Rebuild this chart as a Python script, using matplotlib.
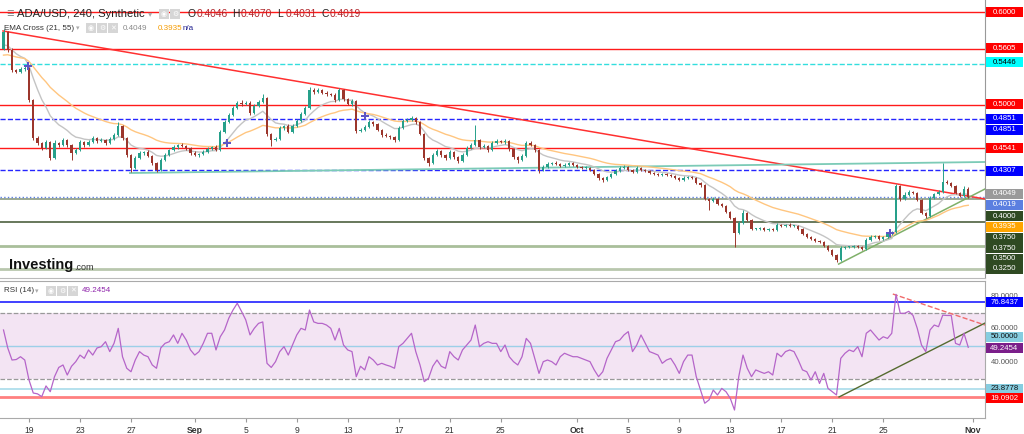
import matplotlib.pyplot as plt
import matplotlib.dates as mdates
from matplotlib.patches import Rectangle
import numpy as np
import pandas as pd

plt.rcParams['font.family'] = ['Liberation Sans', 'DejaVu Sans']

# ---- data (8h bars) ----
first_open = 0.5600
close = [
    0.5786, 0.5593, 0.5379, 0.5358, 0.5390, 0.5401, 0.5058, 0.4652, 0.4598, 0.4545,
    0.4609, 0.4438, 0.4598, 0.4577, 0.4630, 0.4577, 0.4491, 0.4523, 0.4609, 0.4577,
    0.4609, 0.4652, 0.4620, 0.4630, 0.4598, 0.4641, 0.4684, 0.4780, 0.4652, 0.4470,
    0.4331, 0.4438, 0.4491, 0.4502, 0.4459, 0.4384, 0.4309, 0.4416, 0.4470, 0.4523,
    0.4555, 0.4577, 0.4566, 0.4545, 0.4491, 0.4470, 0.4481, 0.4502, 0.4534, 0.4555,
    0.4523, 0.4716, 0.4823, 0.4898, 0.4973, 0.5026, 0.5016, 0.5026, 0.4919, 0.4994,
    0.5037, 0.5080, 0.4695, 0.4630, 0.4641, 0.4759, 0.4780, 0.4716, 0.4780, 0.4834,
    0.4909, 0.4973, 0.5165, 0.5144, 0.5165, 0.5133, 0.5123, 0.5112, 0.5058, 0.5165,
    0.5069, 0.5016, 0.5048, 0.4727, 0.4737, 0.4769, 0.4823, 0.4802, 0.4737, 0.4684,
    0.4673, 0.4662, 0.4630, 0.4759, 0.4834, 0.4844, 0.4866, 0.4823, 0.4695, 0.4438,
    0.4384, 0.4470, 0.4513, 0.4470, 0.4438, 0.4502, 0.4448, 0.4406, 0.4470, 0.4545,
    0.4577, 0.4630, 0.4555, 0.4566, 0.4523, 0.4598, 0.4620, 0.4609, 0.4620, 0.4534,
    0.4448, 0.4416, 0.4459, 0.4598, 0.4577, 0.4523, 0.4309, 0.4341, 0.4373, 0.4384,
    0.4373, 0.4352, 0.4363, 0.4384, 0.4363, 0.4341, 0.4331, 0.4331, 0.4309, 0.4267,
    0.4224, 0.4202, 0.4234, 0.4267, 0.4299, 0.4331, 0.4341, 0.4309, 0.4288, 0.4331,
    0.4309, 0.4299, 0.4277, 0.4267, 0.4256, 0.4267, 0.4256, 0.4245, 0.4224, 0.4202,
    0.4224, 0.4234, 0.4224, 0.4170, 0.4149, 0.3999, 0.3978, 0.3999, 0.3945, 0.3924,
    0.3860, 0.3796, 0.3635, 0.3742, 0.3849, 0.3774, 0.3678, 0.3678, 0.3689, 0.3667,
    0.3678, 0.3667, 0.3721, 0.3710, 0.3721, 0.3710, 0.3710, 0.3678, 0.3624, 0.3592,
    0.3571, 0.3550, 0.3539, 0.3496, 0.3453, 0.3400, 0.3346, 0.3475, 0.3485, 0.3485,
    0.3496, 0.3485, 0.3464, 0.3560, 0.3592, 0.3603, 0.3571, 0.3592, 0.3624, 0.3646,
    0.4138, 0.3999, 0.4041, 0.4074, 0.4063, 0.3988, 0.3849, 0.3817, 0.4010, 0.4052,
    0.4074, 0.4181, 0.4170, 0.4138, 0.4063, 0.4031, 0.4106, 0.4019,
]
# wick lengths above / below the body, in 0.001
up_wick = [
    3, 1, 2, 1, 2, 2, 1, 1, 2, 1, 2, 1, 3, 1, 2, 1, 1, 2, 2, 1,
    2, 2, 1, 2, 1, 2, 2, 4, 1, 1, 1, 2, 2, 1, 2, 1, 1, 2, 2, 1,
    2, 1, 2, 1, 1, 2, 1, 2, 2, 1, 2, 2, 2, 2, 2, 2, 3, 2, 2, 2,
    2, 4, 1, 1, 2, 2, 1, 2, 2, 2, 2, 2, 3, 2, 2, 1, 2, 1, 2, 2,
    1, 1, 2, 1, 2, 2, 2, 1, 1, 1, 2, 1, 1, 2, 2, 2, 2, 1, 1, 1,
    1, 2, 2, 1, 1, 2, 1, 1, 2, 2, 2, 16, 1, 2, 1, 2, 2, 1, 2, 1,
    1, 1, 2, 2, 2, 1, 1, 2, 2, 1, 2, 1, 2, 1, 1, 1, 1, 2, 1, 1,
    1, 1, 1, 1, 2, 2, 2, 1, 1, 2, 1, 1, 1, 1, 1, 1, 1, 1, 1, 1,
    2, 1, 1, 1, 1, 1, 1, 2, 1, 1, 1, 1, 1, 2, 3, 1, 1, 1, 1, 1,
    1, 1, 2, 1, 1, 2, 1, 1, 1, 1, 1, 1, 1, 1, 1, 1, 1, 2, 1, 1,
    1, 1, 1, 2, 2, 1, 1, 1, 1, 1, 2, 1, 3, 2, 1, 1, 1, 1, 2, 1,
    2, 20, 2, 1, 1, 1, 3, 2,
]
down_wick = [
    1, 2, 2, 1, 1, 2, 2, 2, 2, 2, 1, 2, 1, 2, 1, 2, 7, 1, 1, 2,
    1, 1, 2, 1, 2, 1, 1, 1, 2, 2, 4, 1, 1, 2, 1, 2, 2, 1, 1, 1,
    1, 2, 1, 2, 2, 1, 2, 1, 1, 1, 1, 1, 1, 1, 1, 1, 2, 1, 2, 1,
    1, 1, 2, 6, 1, 1, 2, 1, 1, 1, 1, 1, 1, 2, 1, 1, 2, 1, 2, 1,
    2, 1, 2, 2, 1, 1, 1, 2, 1, 2, 1, 2, 2, 1, 1, 1, 1, 2, 1, 2,
    3, 1, 1, 2, 2, 1, 2, 2, 1, 1, 1, 1, 2, 1, 2, 1, 1, 1, 2, 2,
    2, 3, 1, 1, 1, 2, 3, 1, 1, 1, 1, 1, 1, 1, 1, 1, 1, 1, 1, 1,
    2, 2, 1, 1, 1, 1, 1, 1, 1, 1, 1, 1, 1, 1, 1, 1, 1, 1, 1, 1,
    1, 1, 1, 1, 2, 1, 10, 1, 1, 1, 1, 1, 15, 1, 1, 1, 1, 1, 1, 1,
    1, 1, 1, 1, 1, 1, 1, 1, 1, 1, 1, 1, 1, 1, 1, 1, 2, 1, 1, 1,
    1, 1, 1, 1, 1, 1, 1, 1, 1, 1, 1, 2, 1, 1, 1, 1, 1, 2, 1, 1,
    1, 1, 1, 1, 1, 1, 1, 1,
]
rsi = [
    59.7, 48.8, 41.5, 41.8, 43.5, 41.5, 29.4, 21.5, 21.0, 19.3, 25.8, 22.3, 31.4, 37.0, 38.5, 32.4, 37.7, 40.5, 44.5, 42.5,
    47.6, 44.5, 48.8, 49.6, 52.6, 46.6, 51.6, 60.7, 43.5, 36.5, 34.4, 41.5, 46.6, 44.5, 43.5, 38.5, 36.5, 48.8, 51.6, 52.6,
    56.7, 51.6, 57.7, 53.6, 47.6, 44.5, 46.6, 51.6, 57.7, 57.7, 47.6, 55.6, 59.7, 66.8, 71.8, 75.9, 71.0, 65.8, 56.7, 60.7,
    63.7, 64.6, 39.5, 37.0, 40.5, 46.6, 49.6, 44.5, 50.6, 56.7, 60.7, 59.7, 71.8, 64.6, 63.7, 63.7, 62.7, 60.7, 53.6, 60.7,
    50.6, 47.6, 46.6, 31.4, 37.7, 35.5, 43.5, 41.5, 38.5, 39.5, 38.5, 37.7, 36.5, 49.6, 51.6, 54.6, 57.7, 46.6, 38.5, 28.4,
    30.4, 37.7, 41.5, 37.7, 36.5, 46.6, 43.5, 41.5, 47.6, 50.6, 53.6, 62.7, 49.6, 51.6, 52.6, 51.6, 51.6, 46.6, 50.6, 43.5,
    40.5, 38.5, 43.5, 54.6, 51.6, 42.5, 33.4, 40.5, 41.5, 40.5, 38.5, 43.5, 45.6, 44.5, 43.5, 43.5, 42.5, 41.5, 40.5, 35.5,
    31.4, 34.4, 42.5, 47.6, 52.6, 53.6, 56.7, 58.7, 46.6, 50.6, 56.7, 51.6, 46.6, 45.6, 44.5, 39.5, 41.5, 42.5, 38.5, 33.4,
    40.5, 44.5, 44.5, 31.4, 23.3, 15.3, 17.3, 23.3, 20.3, 24.3, 22.3, 18.3, 11.2, 31.4, 44.5, 36.5, 31.4, 35.5, 34.4, 33.4,
    34.4, 32.4, 45.6, 43.5, 46.6, 47.6, 46.6, 41.5, 35.5, 34.4, 29.4, 34.4, 27.3, 33.4, 24.3, 22.3, 20.3, 42.5, 45.6, 47.6,
    46.6, 49.6, 43.5, 57.7, 59.7, 56.7, 53.6, 55.6, 54.6, 57.7, 81.3, 69.8, 69.8, 71.0, 68.5, 60.7, 50.6, 46.6, 59.7, 62.7,
    61.7, 68.7, 68.5, 68.5, 51.6, 50.6, 57.7, 49.2,
]
ema_periods = (21, 55)
ema_seed = (0.5620, 0.5520)

cross_times = ["2022-08-18 22:00", "2022-09-03 13:00", "2022-09-14 08:00", "2022-10-25 13:00"]
cross_prices = [0.5422, 0.4598, 0.4887, 0.3635]

level_values = [0.6000, 0.5605, 0.5446, 0.5000, 0.4851, 0.4541, 0.4307, 0.4000, 0.3750, 0.3500, 0.3250]
level_colors = ['#ff1a1a', '#ff1a1a', '#33dede', '#ff1a1a', '#2525ff', '#ff1a1a', '#2525ff',
                '#8c9c80', '#4e6140', '#a9bf9a', '#b9c7ae']
level_styles = ['-', '-', '--', '-', '--', '-', '--', '-', '-', '-', '-']
level_widths = [1, 1, 1, 1, 1, 1, 1, 1.2, 1.2, 2, 2]

# trend lines: (start time, start value, end time, end value)
red_trend = ("2022-08-16 23:00", 0.5797, "2022-11-01 23:30", 0.3999)
teal_trend = ("2022-08-26 22:00", 0.4277, "2022-11-01 23:30", 0.4395)
green_trend = ("2022-10-21 12:00", 0.3303, "2022-11-01 23:30", 0.4106)
rsi_red_trend = ("2022-10-25 18:00", 81.5, "2022-11-01 23:30", 62.7)
rsi_green_trend = ("2022-10-21 12:45", 19.1, "2022-11-01 23:30", 63.9)

price_tags = ["0.6000", "0.5605", "0.5446", "0.5000", "0.4851", "0.4851", "0.4541", "0.4307",
              "0.4049", "0.4019", "0.4000", "0.3935", "0.3750", "0.3750", "0.3500", "0.3250"]
price_tag_colors = ['#ff0000', '#ff0000', '#00ffff', '#ff0000', '#0000ff', '#0000ff', '#ff0000', '#0000ff',
                    '#9a9a9a', '#5b7fe0', '#2f4a22', '#ffa500', '#2f4a22', '#2f4a22', '#2f4a22', '#2f4a22']
rsi_tags = ["76.8437", "50.0000", "49.2454", "23.8778", "19.0902"]
rsi_tag_colors = ['#0000ff', '#86cde0', '#7b1f8a', '#86cde0', '#ff0000']
rsi_axis_values = ["80.0000", "60.0000", "40.0000"]

tick_dates = ["2022-08-19", "2022-08-23", "2022-08-27", "2022-09-01", "2022-09-05", "2022-09-09",
              "2022-09-13", "2022-09-17", "2022-09-21", "2022-09-25", "2022-10-01", "2022-10-05",
              "2022-10-09", "2022-10-13", "2022-10-17", "2022-10-21", "2022-10-25", "2022-11-01"]
tick_labels = ["19", "23", "27", "Sep", "5", "9", "13", "17", "21", "25", "Oct", "5", "9", "13",
               "17", "21", "25", "Nov"]

# ---- layout helpers (pixel positions on a 1024x434 canvas) ----
W, H = 1024, 434


def px(x, y):
    return x / W, 1 - y / H


def ema(values, period, seed):
    # period is in 4h bars, data is 8h bars
    alpha = 1 - (1 - 2 / (period + 1)) ** 2
    out, e = [], seed
    for v in values:
        e = e + alpha * (v - e)
        out.append(e)
    return np.array(out)


def tag(ypix, text, bg, fg='white'):
    fig.patches.append(Rectangle((986 / W, 1 - (ypix + 5) / H), 37 / W, 10 / H,
                                 transform=fig.transFigure, fc=bg, ec='none', zorder=5))
    fig.text(1004.5 / W, 1 - ypix / H, text, ha='center', va='center', fontsize=5.6,
             color=fg, zorder=6)


def seg(a, line, **kw):
    t0, v0, t1, v1 = line
    a.plot(mdates.date2num(pd.to_datetime([t0, t1])), [v0, v1], **kw)


fig = plt.figure(figsize=(10.24, 4.34), dpi=100)
ax = fig.add_axes([0, 1 - 278 / H, 985 / W, 278 / H])
ax2 = fig.add_axes([0, 1 - 418 / H, 985 / W, 137 / H], sharex=ax)

times = pd.date_range("2022-08-17", periods=len(close), freq="8h")
x = mdates.date2num(times)
c = np.array(close)
o = np.array([first_open] + close[:-1])
hi = np.maximum(o, c) + np.array(up_wick) * 0.001
lo = np.minimum(o, c) - np.array(down_wick) * 0.001
colors = np.where(c >= o, '#26a08a', '#9c362c')

# levels and trend lines
for v, col, ls, lw in zip(level_values, level_colors, level_styles, level_widths):
    ax.axhline(v, color=col, ls=ls, lw=lw, zorder=1)
ax.axhline(close[-1], color='#5b7fe0', ls=':', lw=1, zorder=1)
seg(ax, red_trend, color='#ff3030', lw=1.1, zorder=2)
seg(ax, teal_trend, color='#7ccbb7', lw=1.3, zorder=2)
seg(ax, green_trend, color='#7fb069', lw=1.1, zorder=2)

# EMA cross
ax.plot(x, ema(close, ema_periods[0], ema_seed[0]), color='#c4c4c4', lw=1, zorder=3)
ax.plot(x, ema(close, ema_periods[1], ema_seed[1]), color='#ffc680', lw=1, zorder=3)

# candles
ax.vlines(x, lo, hi, colors=colors, lw=0.7, zorder=4)
ax.bar(x, np.maximum(np.abs(c - o), 0.0006), bottom=np.minimum(o, c), width=0.19,
       color=colors, lw=0, zorder=4)
ax.plot(mdates.date2num(pd.to_datetime(cross_times)), cross_prices, 'P', color='#5d55c4',
        ms=6, mew=0, zorder=6)

base = mdates.date2num(pd.Timestamp("2022-08-19"))
ax.set_xlim(base - 2.275, base + 74.98)
ax.set_ylim(0.31536, 0.61284)
ax.set_yticks([])
ax.tick_params(axis='x', which='both', bottom=False, labelbottom=False)
for s in ['top', 'left']:
    ax.spines[s].set_visible(False)
ax.spines['right'].set_color('#999999')
ax.spines['bottom'].set_color('#bbbbbb')

# RSI panel
ax2.axhspan(30, 70, color='#f3e4f3', lw=0, zorder=0)
ax2.axhline(70, color='#999999', ls='--', lw=0.9, zorder=1)
ax2.axhline(30, color='#999999', ls='--', lw=0.9, zorder=1)
ax2.axhline(50, color='#9ccfe8', lw=1, zorder=1)
ax2.axhline(76.8437, color='#2020ff', lw=1.2, zorder=1)
ax2.axhline(23.8778, color='#a8dcea', lw=1.2, zorder=1)
ax2.axhline(19.0902, color='#ff8080', lw=2, zorder=1)
ax2.plot(x, rsi, color='#b565c9', lw=0.9, zorder=3)
seg(ax2, rsi_red_trend, color='#f06a6a', lw=1, ls='--', zorder=2)
seg(ax2, rsi_green_trend, color='#556b2f', lw=1, zorder=2)
ax2.set_ylim(6.36, 89.39)
ax2.set_yticks([])
ax2.spines['left'].set_visible(False)
for s in ['top', 'right', 'bottom']:
    ax2.spines[s].set_color('#aaaaaa')
ax2.set_xticks(mdates.date2num(pd.to_datetime(tick_dates)))
ax2.set_xticklabels(tick_labels, fontsize=6.2, color='#333333')
for lab in ax2.get_xticklabels():
    if lab.get_text() in ("Sep", "Oct", "Nov"):
        lab.set_fontweight('bold')
ax2.tick_params(axis='x', length=3, pad=3, color='#999999')

# right-hand value tags
tag_rows = [12, 48, 62, 104, 119, 130, 148, 171, 194, 205, 216, 227, 238, 248, 259, 269]
for yp, t, col in zip(tag_rows, price_tags, price_tag_colors):
    tag(yp, t, col, 'black' if col == '#00ffff' else 'white')
for yp, t in zip([296, 329, 363], rsi_axis_values):
    fig.text(*px(991, yp), t, fontsize=5.6, color='#555555', va='center')
rsi_rows = [302, 337, 348, 389, 398]
for yp, t, col in zip(rsi_rows, rsi_tags, rsi_tag_colors):
    tag(yp, t, col, '#111111' if col == '#86cde0' else 'white')

# header texts
icon_kw = dict(fontsize=5, color='white', family='DejaVu Sans', va='center',
               bbox=dict(boxstyle='square,pad=0.25', fc='#d6d6d6', ec='none'))
fig.text(*px(6, 14), "☰", fontsize=6, color='#777777', family='DejaVu Sans', va='center')
fig.text(*px(17, 14), "ADA/USD, 240, Synthetic", fontsize=8.1, color='#222222', va='center')
fig.text(*px(148, 14), "▾", fontsize=6, color='#aaaaaa', family='DejaVu Sans', va='center')
fig.text(*px(161, 14), "◉", **icon_kw)
fig.text(*px(172, 14), "⚙", **icon_kw)
ohlc = [("O", "0.4046", 188), ("H", "0.4070", 232), ("L", "0.4031", 277), ("C", "0.4019", 321)]
for k, v, xp in ohlc:
    fig.text(*px(xp, 14), k, fontsize=7.4, color='#222222', va='center')
    fig.text(*px(xp + 8.5, 14), v, fontsize=7.4, color='#b0282d', va='center')

fig.text(*px(4, 28), "EMA Cross (21, 55)", fontsize=5.8, color='#333333', va='center')
fig.text(*px(76, 28), "▾", fontsize=5, color='#aaaaaa', family='DejaVu Sans', va='center')
for xp, g in zip([88, 99, 110], ["◉", "⚙", "✕"]):
    fig.text(*px(xp, 28), g, **icon_kw)
fig.text(*px(123, 28), "0.4049", fontsize=5.8, color='#8a8a8a', va='center')
fig.text(*px(158, 28), "0.3935", fontsize=5.8, color='#f59b00', va='center')
fig.text(*px(183, 28), "n/a", fontsize=5.8, color='#1a1a8c', va='center')

fig.text(*px(4, 291), "RSI (14)", fontsize=5.8, color='#333333', va='center')
fig.text(*px(35, 291), "▾", fontsize=5, color='#aaaaaa', family='DejaVu Sans', va='center')
for xp, g in zip([48, 59, 70], ["◉", "⚙", "✕"]):
    fig.text(*px(xp, 291), g, **icon_kw)
fig.text(*px(82, 291), "49.2454", fontsize=5.8, color='#8e24aa', va='center')

fig.text(*px(9, 265), "Investing", fontsize=10.5, fontweight='bold', color='#111111', va='center')
fig.text(*px(74, 267), ".com", fontsize=6.5, color='#333333', va='center')

fig.savefig("out.png", dpi=100)
